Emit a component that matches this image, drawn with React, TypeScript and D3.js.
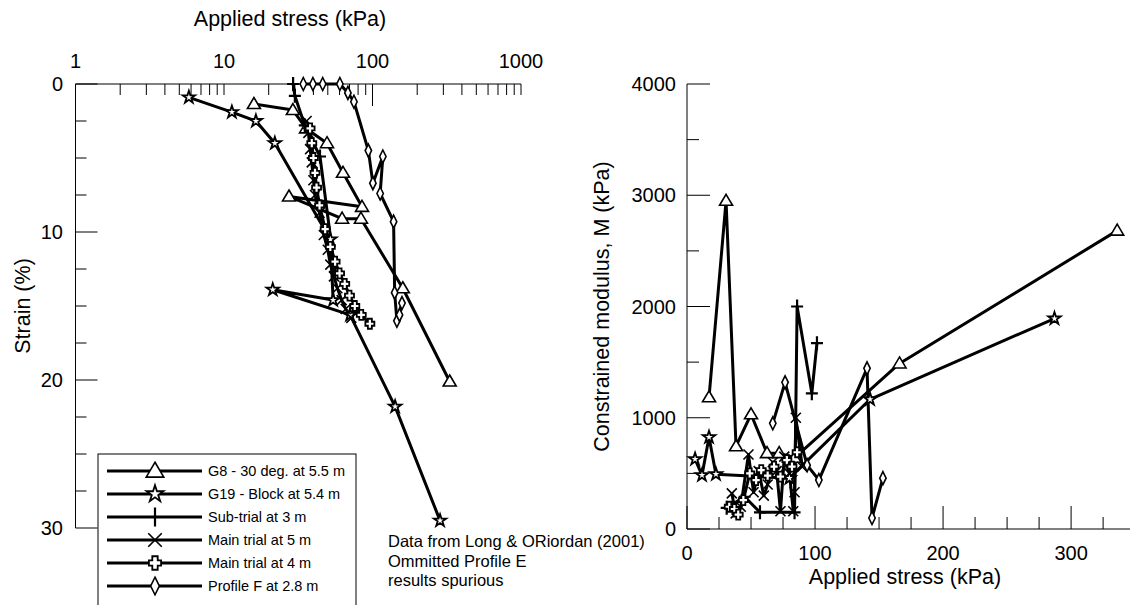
import React from 'react';
import * as d3 from 'd3';

// ---------- Left chart: applied stress (kPa) vs strain (%) ----------
const g8Stress = [15.9, 29.1, 35.7, 49.4, 63.3, 85, 27.4, 62.4, 83.6, 160, 331];
const g8Strain = [1.35, 1.76, 3.0, 4.0, 6.0, 8.3, 7.6, 9.1, 9.1, 13.8, 20.1];

const g19Stress = [5.8, 11.3, 16.4, 22, 52, 54.3, 21.3, 70.6, 142, 285];
const g19Strain = [0.9, 1.9, 2.5, 4.0, 10.5, 14.6, 13.9, 15.6, 21.8, 29.5];

const subStress = [29.2, 30, 35, 44.3, 55.9];
const subStrain = [0, 0.8, 2.8, 4.9, 12.7];

const m5Stress = [36, 37, 38, 39, 40, 41, 44, 47, 50, 52, 55, 58, 62, 66, 72];
const m5Strain = [2.5, 3.3, 4.4, 5.3, 6.5, 7.5, 8.7, 10.2, 11.2, 12.2, 13.0, 13.8, 14.6, 15.2, 15.8];

const m4Stress = [38, 39, 40, 41, 42, 44, 48, 52, 56, 60, 65, 70, 76, 84, 96];
const m4Strain = [3.0, 4.0, 5.0, 6.0, 7.0, 8.2, 9.8, 11.0, 12.0, 12.8, 13.5, 14.3, 15.0, 15.6, 16.2];

const pfStress = [34.2, 39.7, 46.2, 60.3, 68.3, 75, 93.8, 100.6, 117.4, 112.6, 138.7, 141, 146, 158, 152];
const pfStrain = [0, 0, 0, 0, 0.6, 1.2, 4.5, 6.7, 4.9, 7.4, 9.3, 14.1, 16.0, 14.8, 15.6];

// ---------- Right chart: applied stress (kPa) vs constrained modulus (kPa) ----------
const g8RStress = [17.2, 30.5, 38.3, 50, 62.5, 72, 84, 166, 336];
const g8RMod = [1184, 2950, 744, 1031, 682, 682, 640, 1488, 2682];

const g19RStress = [6.3, 11.7, 17.2, 22.6, 80, 143, 287];
const g19RMod = [628, 484, 825, 493, 457, 1166, 1892];

const subRStress = [31, 45, 57, 84, 86, 97.5, 101.5];
const subRMod = [190, 290, 150, 150, 2000, 1220, 1670];

const m5RStress = [35, 38, 42, 48, 52, 56, 60, 63, 67, 70, 73, 76, 80, 83, 84, 85, 90];
const m5RMod = [320, 140, 200, 670, 330, 520, 300, 400, 600, 520, 160, 650, 500, 160, 330, 1000, 560];

const m4RStress = [33, 37, 40, 44, 49, 54, 58, 63, 68, 73, 78, 82, 86];
const m4RMod = [200, 180, 130, 260, 500, 440, 530, 480, 560, 470, 620, 560, 690];

const pfRStress = [67, 76.6, 93.8, 103, 140.6, 144.5, 153];
const pfRMod = [950, 1318, 574, 440, 1444, 99, 457];

// ---------- labels ----------
const legendLabels = [
  'G8 - 30 deg. at 5.5 m',
  'G19 - Block at 5.4 m',
  'Sub-trial at 3 m',
  'Main trial at 5 m',
  'Main trial at 4 m',
  'Profile F at 2.8 m',
];
const markerTypes = ['tri', 'star', 'plus', 'x', 'hplus', 'diamond'];
const leftXTicks = [1, 10, 100, 1000];
const leftYTicks = [0, 10, 20, 30];
const rightXTicks = [0, 100, 200, 300];
const rightYTicks = [0, 1000, 2000, 3000, 4000];
const noteLines = ['Data from Long & ORiordan (2001)', 'Ommitted Profile E', 'results spurious'];

const FONT = '"Liberation Sans", Arial, Helvetica, sans-serif';

const zip = (a: number[], b: number[]) => a.map((v, i) => [v, b[i]] as [number, number]);

const leftSeries = [
  zip(g8Stress, g8Strain),
  zip(g19Stress, g19Strain),
  zip(subStress, subStrain),
  zip(m5Stress, m5Strain),
  zip(m4Stress, m4Strain),
  zip(pfStress, pfStrain),
];
const rightSeries = [
  zip(g8RStress, g8RMod),
  zip(g19RStress, g19RMod),
  zip(subRStress, subRMod),
  zip(m5RStress, m5RMod),
  zip(m4RStress, m4RMod),
  zip(pfRStress, pfRMod),
];

const starPath = d3.symbol(d3.symbolStar, 48)() as string;

function Marker({ type, x, y, s = 1 }: { type: string; x: number; y: number; s?: number }) {
  const tr = `translate(${x},${y}) scale(${s})`;
  const sw = 1.6 / s;
  switch (type) {
    case 'tri':
      return <path transform={tr} d="M0,-6.5L6.5,4.5L-6.5,4.5Z" fill="#fff" stroke="#000" strokeWidth={sw} />;
    case 'star':
      return <path transform={tr} d={starPath} fill="#fff" stroke="#000" strokeWidth={1.8 / s} />;
    case 'plus':
      return <path transform={tr} d="M-6,0H6M0,-7V7" fill="none" stroke="#000" strokeWidth={2.2 / s} />;
    case 'x':
      return <path transform={tr} d="M-5,-5L5,5M5,-5L-5,5" fill="none" stroke="#000" strokeWidth={1.6 / s} />;
    case 'hplus':
      return (
        <path
          transform={tr}
          d="M-2,-5H2V-2H4.5V2H2V5H-2V2H-4.5V-2H-2Z"
          fill="#fff"
          stroke="#000"
          strokeWidth={1.8 / s}
        />
      );
    case 'diamond':
      return <path transform={tr} d="M0,-6.5L3.2,0L0,6.5L-3.2,0Z" fill="#fff" stroke="#000" strokeWidth={sw} />;
    default:
      return null;
  }
}

export default function App() {
  // Left chart scales
  const xL = d3.scaleLog().domain([1, 1000]).range([75.5, 521]);
  const yL = d3.scaleLinear().domain([0, 30]).range([84, 528]);
  // Right chart scales
  const xR = d3.scaleLinear().domain([0, 346]).range([687, 1130]);
  const yR = d3.scaleLinear().domain([0, 4000]).range([529, 84]);

  const lineL = d3.line<[number, number]>().x((d) => xL(d[0])).y((d) => yL(d[1]));
  const lineR = d3.line<[number, number]>().x((d) => xR(d[0])).y((d) => yR(d[1]));

  // log ticks (only the 100 tick is drawn long in the reference)
  const logTicks: { v: number; major: boolean }[] = [];
  for (const dec of [1, 10, 100]) {
    for (let k = 1; k <= 9; k++) logTicks.push({ v: dec * k, major: dec * k === 100 });
  }
  logTicks.push({ v: 1000, major: false });

  const leftYMinor = d3.range(0, 30.01, 2.5);
  const rightXMinor = d3.range(0, 346, 25);
  const rightYMinor = d3.range(0, 4001, 500);

  const tickFont = 20;
  const titleFont = 21.5;

  return (
    <svg
      width={1130}
      height={605}
      style={{ position: 'absolute', left: 0, top: 0, background: '#fff' }}
      fontFamily={FONT}
    >
      <rect x={0} y={0} width={1130} height={605} fill="#fff" />
      {/* ===== LEFT CHART ===== */}
      <text x={290} y={26} fontSize={titleFont} textAnchor="middle">
        Applied stress (kPa)
      </text>
      {leftXTicks.map((t) => (
        <text key={'lxt' + t} x={xL(t)} y={68} fontSize={tickFont} textAnchor="middle">
          {t}
        </text>
      ))}
      {leftYTicks.map((t) => (
        <text key={'lyt' + t} x={63} y={yL(t) + 7} fontSize={tickFont} textAnchor="end">
          {t}
        </text>
      ))}
      <text transform={`translate(30,${yL(15)}) rotate(-90)`} fontSize={titleFont} textAnchor="middle">
        Strain (%)
      </text>
      <g stroke="#000" strokeWidth={1}>
        <line x1={xL(1)} x2={xL(1000)} y1={yL(0)} y2={yL(0)} />
        <line x1={xL(1)} x2={xL(1)} y1={yL(0)} y2={yL(30)} />
        {logTicks.map((t, i) => (
          <line key={'lgt' + i} x1={xL(t.v)} x2={xL(t.v)} y1={yL(0)} y2={yL(0) + (t.major ? 22 : 11)} />
        ))}
        {leftYMinor.map((t, i) => (
          <line key={'lym' + i} x1={xL(1)} x2={xL(1) + (t % 10 === 0 ? 22 : 11)} y1={yL(t)} y2={yL(t)} />
        ))}
      </g>
      {leftSeries.map((s, i) => (
        <path key={'ll' + i} d={lineL(s) as string} fill="none" stroke="#000" strokeWidth={3} strokeLinejoin="round" />
      ))}
      {leftSeries.map((s, i) =>
        s.map((d, j) => <Marker key={'lm' + i + '-' + j} type={markerTypes[i]} x={xL(d[0])} y={yL(d[1])} />)
      )}

      {/* Legend */}
      <rect x={98} y={454} width={258} height={160} fill="#fff" stroke="#000" strokeWidth={1} />
      {legendLabels.map((lab, i) => {
        const cy = 471 + i * 23;
        return (
          <g key={'leg' + i}>
            <line x1={107} x2={202} y1={cy} y2={cy} stroke="#000" strokeWidth={3} />
            <Marker type={markerTypes[i]} x={155} y={cy} s={1.35} />
            <text x={208} y={cy + 5} fontSize={14.5}>
              {lab}
            </text>
          </g>
        );
      })}
      {noteLines.map((t, i) => (
        <text key={'note' + i} x={388} y={547 + i * 19.5} fontSize={16.5}>
          {t}
        </text>
      ))}

      {/* ===== RIGHT CHART ===== */}
      {rightYTicks.map((t) => (
        <text key={'ryt' + t} x={676} y={yR(t) + 7} fontSize={tickFont} textAnchor="end">
          {t}
        </text>
      ))}
      {rightXTicks.map((t) => (
        <text key={'rxt' + t} x={xR(t)} y={560} fontSize={tickFont} textAnchor="middle">
          {t}
        </text>
      ))}
      <text x={905} y={584} fontSize={titleFont} textAnchor="middle">
        Applied stress (kPa)
      </text>
      <text transform={`translate(609,${yR(2000)}) rotate(-90)`} fontSize={titleFont} textAnchor="middle">
        Constrained modulus, M (kPa)
      </text>
      <g stroke="#000" strokeWidth={1}>
        <line x1={xR(0)} x2={1130} y1={yR(0)} y2={yR(0)} />
        <line x1={xR(0)} x2={xR(0)} y1={yR(0)} y2={yR(4000)} />
        {rightXMinor.map((t, i) => (
          <line key={'rxm' + i} x1={xR(t)} x2={xR(t)} y1={yR(0)} y2={yR(0) - (t % 100 === 0 ? 23 : 12)} />
        ))}
        {rightYMinor.map((t, i) => (
          <line key={'rym' + i} x1={xR(0)} x2={xR(0) + (t % 1000 === 0 ? 23 : 12)} y1={yR(t)} y2={yR(t)} />
        ))}
      </g>
      {rightSeries.map((s, i) => (
        <path key={'rl' + i} d={lineR(s) as string} fill="none" stroke="#000" strokeWidth={3} strokeLinejoin="round" />
      ))}
      {rightSeries.map((s, i) =>
        s.map((d, j) => <Marker key={'rm' + i + '-' + j} type={markerTypes[i]} x={xR(d[0])} y={yR(d[1])} />)
      )}
    </svg>
  );
}
